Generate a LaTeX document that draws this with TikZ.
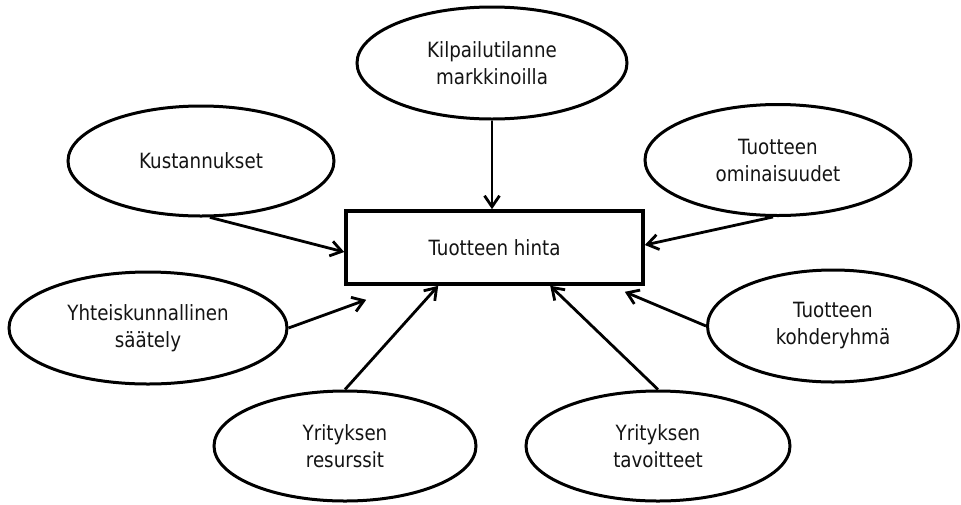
\documentclass[tikz,border=0pt]{standalone}
\usepackage{fontspec}
\setmainfont{DejaVu Sans}[FakeStretch=0.87]
\usetikzlibrary{shapes.geometric,arrows.meta,calc}
\definecolor{inkgray}{HTML}{141414}
\begin{document}
\begin{tikzpicture}[x=1pt,y=-1pt,
  oval/.style={ellipse,draw,line width=3pt,inner sep=0pt,align=center,text=inkgray,
    font=\fontsize{21}{27}\selectfont},
  pricebox/.style={rectangle,draw,line width=3.6pt,minimum width=297pt,minimum height=73pt,
    text=inkgray,font=\fontsize{21}{27}\selectfont},
  conn/.style={line width=2.8pt,-{Straight Barb[length=11pt,width=15pt]}}]
\useasboundingbox[fill=white] (0,0) rectangle (961,504);
\node[oval,minimum width=270pt,minimum height=112pt] (K) at (492,63) {Kilpailutilanne\\markkinoilla};
\node[oval,minimum width=266pt,minimum height=110pt] (Ku) at (201,161) {Kustannukset};
\node[oval,minimum width=266pt,minimum height=111pt] (TO) at (778,160) {Tuotteen\\ominaisuudet};
\node[oval,minimum width=278pt,minimum height=112pt] (Y) at (148,328) {Yhteiskunnallinen\\säätely};
\node[oval,minimum width=251pt,minimum height=112pt] (TK) at (833,326) {Tuotteen\\kohderyhmä};
\node[oval,minimum width=262pt,minimum height=110pt] (R) at (345,446) {Yrityksen\\resurssit};
\node[oval,minimum width=264pt,minimum height=110pt] (T) at (658,446) {Yrityksen\\tavoitteet};
\node[pricebox] (H) at (494.5,247.5) {Tuotteen hinta};
\coordinate (yend) at ($(H.south west)+(22,14)$);
\coordinate (tkend) at ($(H.south east)+(-20,6)$);
\coordinate (rend) at ($(H.south west)+(94,0)$);
\coordinate (tend) at ($(H.south west)+(206,0)$);
\draw[conn] (K.south) -- (K.south |- H.north);
\draw[conn] (Ku.-81) -- ([yshift=-4.5pt]H.west);
\draw[conn] (TO.265) -- ([yshift=2.5pt]H.east);
\draw[conn] (Y.east) -- (yend);
\draw[conn] (TK.west) -- (tkend);
\draw[conn] (R.north) -- (rend);
\draw[conn] (T.north) -- (tend);
\end{tikzpicture}
\end{document}
